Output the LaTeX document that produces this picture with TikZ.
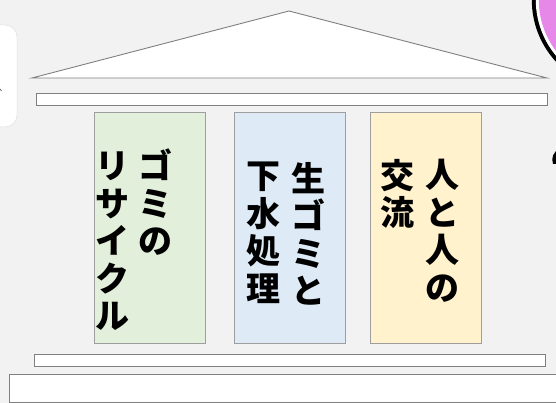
\documentclass[tikz,border=0pt]{standalone}
\usepackage{fontspec}
\newfontfamily\jp{Noto Sans CJK JP}
\begin{document}
\begin{tikzpicture}[x=1pt,y=-1pt,
  edge/.style={draw=black!50, line width=0.9pt},
  pillar/.style={draw=black!38, line width=0.9pt, anchor=north west, inner sep=0pt},
  col/.style={anchor=north, align=center, inner sep=0pt, text=black,
     font=\jp\bfseries\fontsize{34}{37.5}\selectfont},
]
\definecolor{bg}{RGB}{242,242,242}
\definecolor{pgreen}{RGB}{226,239,218}
\definecolor{pblue}{RGB}{222,235,247}
\definecolor{pyellow}{RGB}{255,242,204}
\definecolor{pink}{RGB}{229,136,232}
\useasboundingbox (0,0) rectangle (556,403);
\fill[bg] (0,0) rectangle (556,403);
% left white rounded card
\fill[white, rounded corners=12pt] (-30,25) rectangle (17,127);
\draw[black!12, line width=0.5pt] (-30,25) [rounded corners=12pt] -- (17,25) -- (17,127) -- (-30,127);
\draw[black!60, line width=0.8pt] (0,89) -- (1.5,91);
% top-right pink disc
\begin{scope}
\clip (0,0) rectangle (556,403);
\fill[black] (622.8,0) circle (91);
\fill[white] (622.8,0) circle (87);
\fill[pink] (622.8,0) circle (84);
\fill[black] (560,148) .. controls (553,152) and (551,158) .. (553,164) -- (560,164) -- cycle;
\end{scope}
% roof
\coordinate (rl) at (32,78);
\coordinate (rt) at (289,11);
\coordinate (rr) at (547,78);
\filldraw[fill=white, edge] (rl) -- (rt) -- (rr) -- cycle;
% architrave
\node[edge, fill=white, anchor=north west, minimum width=511pt, minimum height=12pt, inner sep=0pt] (beam) at (36,93) {};
% pillars
\node[pillar, fill=pgreen, minimum width=111pt, minimum height=231pt] (p1) at (94,112) {};
\node[pillar, fill=pblue, minimum width=111pt, minimum height=231pt] (p2) at (234,112) {};
\node[pillar, fill=pyellow, minimum width=111pt, minimum height=231pt] (p3) at (370,112) {};
% base bars
\node[edge, fill=white, anchor=north west, minimum width=511pt, minimum height=12pt, inner sep=0pt] (stylo) at (34,354) {};
\node[edge, fill=white, anchor=north west, minimum width=560pt, minimum height=28pt, inner sep=0pt] (base) at (9,374) {};
% texts (vertical, right column first)
\node[col] (t1a) at (155,149) {ゴ\\ミ\\の};
\node[col] (t1b) at (112,152) {リ\\サ\\イ\\ク\\ル};
\node[col] (t2a) at (308,162) {生\\ゴ\\ミ\\と};
\node[col] (t2b) at (263,162) {下\\水\\処\\理};
\node[col] (t3a) at (442,159) {人\\と\\人\\の};
\node[col] (t3b) at (397,159) {交\\流};
\end{tikzpicture}
\end{document}
